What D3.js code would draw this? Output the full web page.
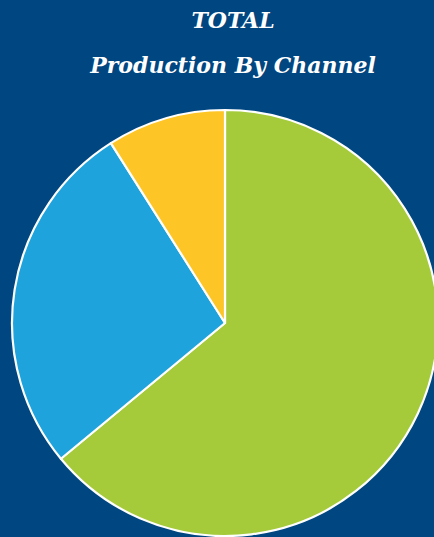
<!DOCTYPE html>
<html><head><meta charset="utf-8">
<script src="https://cdn.jsdelivr.net/npm/d3@7"></script>
<style>html,body{margin:0;padding:0;background:#004680;overflow:hidden}</style>
</head><body>
<svg id="c" width="434" height="537"></svg>
<script>
const categories = ["Channel A", "Channel B", "Channel C"];
const values = [64, 27, 9];
const colors = ["#a5cb3b", "#1fa3dc", "#fdc526"];
const titleLines = ["TOTAL", "Production By Channel"];

const svg = d3.select("#c");
svg.append("rect").attr("width",434).attr("height",537).attr("fill","#004680");

const cx = 225, cy = 323, r = 213;
const pie = d3.pie().sort(null).value(d => d.v);
const arc = d3.arc().innerRadius(0).outerRadius(r);
const data = categories.map((c,i)=>({c, v: values[i], col: colors[i]}));
const g = svg.append("g").attr("transform", `translate(${cx},${cy})`);
g.selectAll("path").data(pie(data)).join("path")
  .attr("d", arc).attr("fill", d => d.data.col)
  .attr("stroke", "#fff").attr("stroke-width", 2.2).attr("stroke-linejoin","round");

svg.selectAll("text.t").data(titleLines).join("text")
  .attr("class","t")
  .attr("x", 233).attr("y", (d,i) => 28 + i*45)
  .attr("text-anchor","middle")
  .attr("font-family","'DejaVu Serif', serif")
  .attr("font-style","italic").attr("font-weight","bold")
  .attr("font-size", 22).attr("fill","#fff")
  .text(d => d);
</script>
</body></html>
